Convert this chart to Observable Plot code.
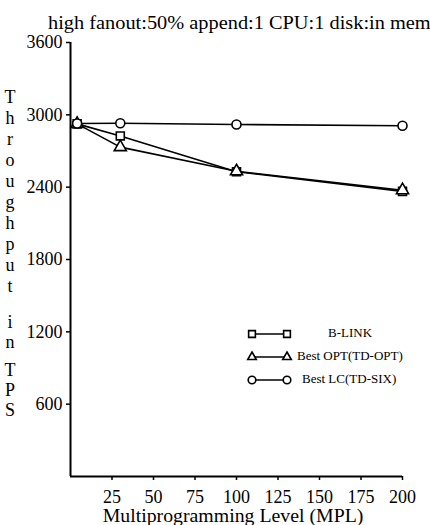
<!DOCTYPE html>
<html>
<head>
<meta charset="utf-8">
<script src="https://cdn.jsdelivr.net/npm/d3@7"></script>
<script src="https://cdn.jsdelivr.net/npm/@observablehq/plot@0.6"></script>
<style>
  html, body { margin: 0; padding: 0; background: #fff; }
  #wrap { position: relative; width: 430px; height: 525px; overflow: hidden; font-family: "Liberation Serif", "DejaVu Serif", serif; color: #000; }
  #wrap svg.plot { position: absolute; left: 0; top: 0; }
  .abs { position: absolute; white-space: nowrap; line-height: 20px; }
  #title { left: 48px; top: 13px; font-size: 18.5px; transform: scaleX(1.1); transform-origin: 0 50%; }
  #xlabel { left: 0; width: 466px; text-align: center; top: 506px; font-size: 18px; transform: scaleX(1.1); transform-origin: 233px 50%; }
  .ylet { position: absolute; left: 0; width: 20px; text-align: center; font-size: 18px; line-height: 18px; }
  .leg { position: absolute; font-size: 13px; line-height: 14px; white-space: nowrap; }
</style>
</head>
<body>
<div id="wrap"></div>
<script>
// ---- data ----
const mpl = [4, 30, 100, 200];
const seriesNames = ["B-LINK", "Best OPT(TD-OPT)", "Best LC(TD-SIX)"];
const bLink = [2925, 2825, 2528, 2365];
const bestOpt = [2925, 2732, 2532, 2375];
const bestLc = [2928, 2930, 2920, 2910];
const symbols = ["square", "triangle", "circle"];
const xTicks = [25, 50, 75, 100, 125, 150, 175, 200];
const yTicks = [600, 1200, 1800, 2400, 3000, 3600];
const titleText = "high fanout:50% append:1 CPU:1 disk:in mem";
const xLabel = "Multiprogramming Level (MPL)";
const yLabelWords = ["Throughput", "in", "TPS"];

const allSeries = [bLink, bestOpt, bestLc];
const rows = [];
allSeries.forEach((vals, si) => vals.forEach((v, i) => rows.push({series: seriesNames[si], mpl: mpl[i], tps: v})));

const wrap = document.getElementById("wrap");

const chart = Plot.plot({
  width: 430,
  height: 525,
  marginLeft: 70,
  marginRight: 28,
  marginTop: 42,
  marginBottom: 49,
  style: {fontFamily: "Liberation Serif, serif", fontSize: "18px", background: "transparent", color: "#000"},
  x: {domain: [0, 200]},
  y: {domain: [0, 3600]},
  symbol: {domain: seriesNames, range: symbols},
  marks: [
    Plot.axisY({ticks: yTicks, tickFormat: d => String(d), tickSize: 4, tickPadding: 4, fontSize: 18, label: null, strokeWidth: 1.5}),
    Plot.axisX({ticks: xTicks, tickFormat: d => String(d), tickSize: 4, tickPadding: 10, fontSize: 18, label: null, strokeWidth: 1.5}),
    Plot.ruleX([0], {strokeWidth: 2}),
    Plot.ruleY([0], {strokeWidth: 2}),
    Plot.line(rows, {x: "mpl", y: "tps", z: "series", stroke: "black", strokeWidth: 1.6}),
    Plot.dot(rows, {x: "mpl", y: "tps", symbol: "series", r: 4.5, stroke: "black", fill: "white", strokeWidth: 1.6})
  ]
});
chart.classList.add("plot");
wrap.appendChild(chart);

// title
const t = document.createElement("div");
t.className = "abs"; t.id = "title"; t.textContent = titleText;
wrap.appendChild(t);

// x label
const xl = document.createElement("div");
xl.className = "abs"; xl.id = "xlabel"; xl.textContent = xLabel;
wrap.appendChild(xl);

// vertical stacked y label
const letterTops = [[88, 109, 130, 151, 172, 193, 214, 235, 256, 277], [313, 333], [361, 381, 401]];
yLabelWords.forEach((w, wi) => {
  [...w].forEach((ch, ci) => {
    const d = document.createElement("div");
    d.className = "ylet";
    d.style.top = letterTops[wi][ci] + "px";
    d.textContent = ch;
    wrap.appendChild(d);
  });
});

// legend
const legRows = [334, 357, 380];
const legTextX = [328, 297, 302];
const legSymR = [3.8, 3.2, 3.8];
const legSvg = d3.create("svg").attr("width", 60).attr("height", 70)
  .style("position", "absolute").style("left", "240px").style("top", "320px");
seriesNames.forEach((name, i) => {
  const y = legRows[i] - 320;
  legSvg.append("line").attr("x1", 12).attr("x2", 47).attr("y1", y).attr("y2", y)
    .attr("stroke", "black").attr("stroke-width", 1.6);
  const symType = {square: d3.symbolSquare, triangle: d3.symbolTriangle, circle: d3.symbolCircle}[symbols[i]];
  const path = d3.symbol(symType, legSymR[i] * legSymR[i] * Math.PI)();
  [12, 47].forEach(x => {
    legSvg.append("path").attr("d", path).attr("transform", `translate(${x},${y})`)
      .attr("fill", "white").attr("stroke", "black").attr("stroke-width", 1.6);
  });
  const lt = document.createElement("div");
  lt.className = "leg";
  lt.style.left = legTextX[i] + "px";
  lt.style.top = (legRows[i] - 8) + "px";
  lt.textContent = name;
  wrap.appendChild(lt);
});
wrap.appendChild(legSvg.node());
</script>
</body>
</html>
